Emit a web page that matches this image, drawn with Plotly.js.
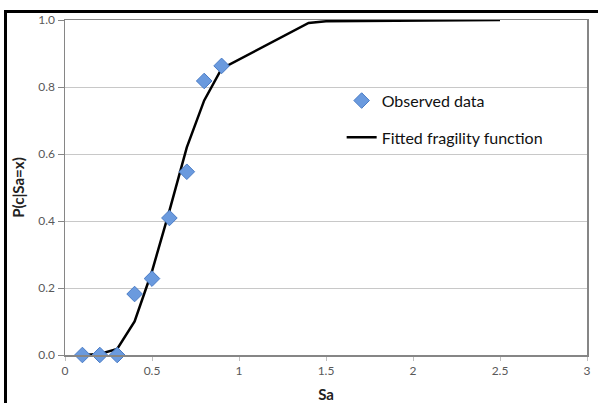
<!DOCTYPE html>
<html>
<head>
<meta charset="utf-8">
<script src="https://cdn.plot.ly/plotly-3.0.1.min.js"></script>
<style>
  html, body { margin: 0; padding: 0; background: #fff; overflow: hidden; }
  #chart { width: 598px; height: 403px; position: absolute; left: 0; top: 0; }
  #frame { position: absolute; left: 4px; top: 10px; width: 700px; height: 500px;
           border-left: 3px solid #000; border-top: 3px solid #000; pointer-events: none; }
</style>
</head>
<body>
<div id="chart"></div>
<div id="frame"></div>
<script>
// Observed data
const obsSa = [0.1, 0.2, 0.3, 0.4, 0.5, 0.6, 0.7, 0.8, 0.9];
const obsP  = [0.0, 0.0, 0.0, 0.182, 0.228, 0.409, 0.547, 0.818, 0.863];

// Fitted fragility function
const fitSa = [0.1, 0.2, 0.3, 0.4, 0.5, 0.6, 0.7, 0.8, 0.9, 1.4, 1.5, 2.0, 2.5];
const fitP  = [0.0, 0.003, 0.018, 0.10, 0.25, 0.43, 0.62, 0.76, 0.855, 0.991, 0.996, 0.999, 1.0];

const xTicks = [0, 0.5, 1, 1.5, 2, 2.5, 3];
const xTickText = ['0', '0.5', '1', '1.5', '2', '2.5', '3'];
const yTicks = [0, 0.2, 0.4, 0.6, 0.8, 1.0];
const yTickText = ['0.0', '0.2', '0.4', '0.6', '0.8', '1.0'];

const font = 'Lato, "Open Sans", sans-serif';

const traces = [
  {
    x: fitSa, y: fitP, type: 'scatter', mode: 'lines',
    name: 'Fitted fragility function', legendgroup: 'b', legendrank: 2,
    line: { color: '#000', width: 2.5 }, cliponaxis: false
  },
  {
    x: obsSa, y: obsP, type: 'scatter', mode: 'markers',
    name: 'Observed data', legendgroup: 'a', legendrank: 1,
    marker: { symbol: 'diamond', size: 12, color: '#6a9ade', line: { color: '#4a7cc6', width: 1 } },
    cliponaxis: false
  }
];

const layout = {
  width: 598, height: 403,
  margin: { l: 65, r: 11, t: 20, b: 48 },
  paper_bgcolor: '#fff', plot_bgcolor: '#fff',
  font: { family: font, color: '#595959', size: 12 },
  showlegend: true,
  legend: {
    x: 0.53, y: 0.81, xanchor: 'left', yanchor: 'top',
    font: { family: font, size: 16, color: '#111' },
    bgcolor: 'rgba(0,0,0,0)', traceorder: 'grouped', tracegroupgap: 13
  },
  xaxis: {
    range: [0, 3], tickvals: xTicks, ticktext: xTickText,
    showgrid: false, zeroline: false,
    showline: true, linecolor: '#868686', linewidth: 1.5, mirror: true,
    ticks: 'outside', ticklen: 4, tickcolor: '#bfbfbf', tickwidth: 1,
    tickfont: { family: font, size: 12, color: '#595959' },
    title: { text: '<b>Sa</b>', font: { family: font, size: 15, color: '#222' }, standoff: 12 }
  },
  yaxis: {
    range: [0, 1], tickvals: yTicks, ticktext: yTickText,
    showgrid: true, gridcolor: '#c8c8c8', gridwidth: 1, zeroline: false,
    showline: true, linecolor: '#868686', linewidth: 1.5, mirror: true,
    ticks: 'outside', ticklen: 6, tickcolor: '#868686', tickwidth: 1,
    tickfont: { family: font, size: 12, color: '#595959' },
    title: { text: '<b>P(c|Sa=x)</b>', font: { family: font, size: 15, color: '#222' }, standoff: 10 }
  }
};

Plotly.newPlot('chart', traces, layout, { displayModeBar: false, staticPlot: true });
</script>
</body>
</html>
